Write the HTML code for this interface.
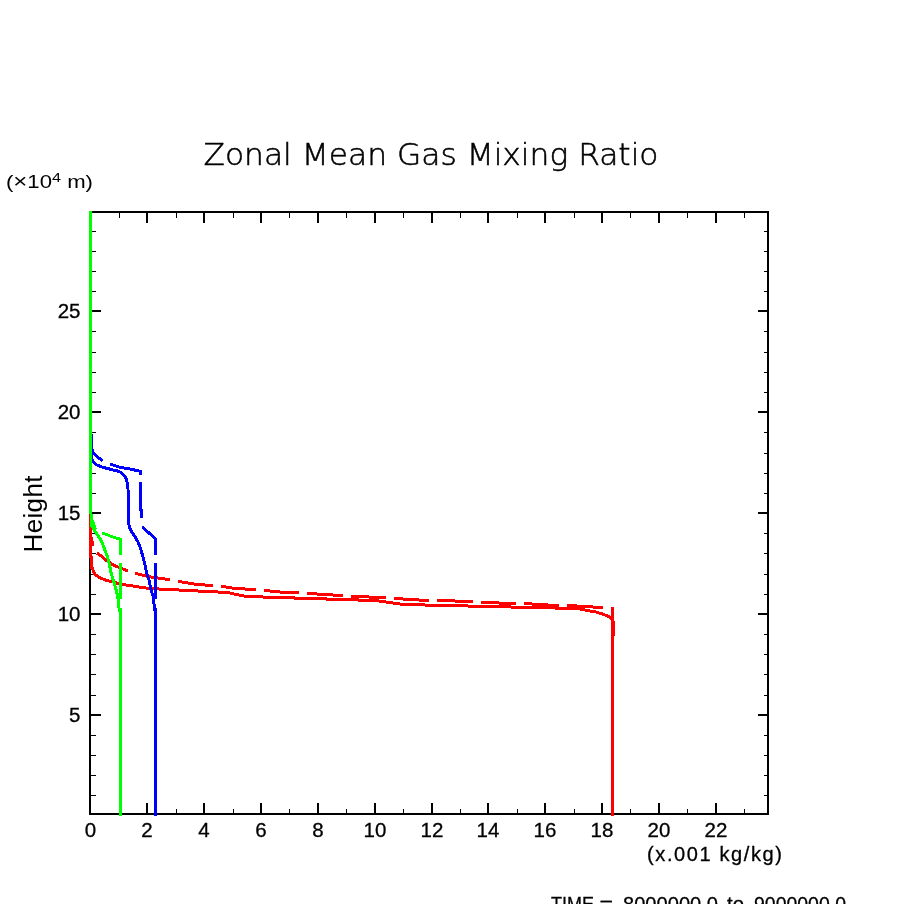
<!DOCTYPE html>
<html><head><meta charset="utf-8"><title>Zonal Mean Gas Mixing Ratio</title>
<style>html,body{margin:0;padding:0;background:#fff;width:904px;height:904px;overflow:hidden}</style>
</head><body>
<svg width="904" height="904" viewBox="0 0 904 904" style="display:block">
<rect width="904" height="904" fill="#fff"/>
<g shape-rendering="crispEdges">
<rect x="89" y="211" width="680" height="2" fill="#000"/>
<rect x="89" y="813" width="680" height="2" fill="#000"/>
<rect x="89" y="211" width="2" height="604" fill="#000"/>
<rect x="767" y="211" width="2" height="604" fill="#000"/>
<rect x="119" y="809" width="1" height="4" fill="#000"/>
<rect x="119" y="213" width="1" height="5" fill="#000"/>
<rect x="146" y="803" width="2" height="10" fill="#000"/>
<rect x="146" y="213" width="2" height="10" fill="#000"/>
<rect x="176" y="809" width="1" height="4" fill="#000"/>
<rect x="176" y="213" width="1" height="5" fill="#000"/>
<rect x="203" y="803" width="2" height="10" fill="#000"/>
<rect x="203" y="213" width="2" height="10" fill="#000"/>
<rect x="233" y="809" width="1" height="4" fill="#000"/>
<rect x="233" y="213" width="1" height="5" fill="#000"/>
<rect x="260" y="803" width="2" height="10" fill="#000"/>
<rect x="260" y="213" width="2" height="10" fill="#000"/>
<rect x="289" y="809" width="1" height="4" fill="#000"/>
<rect x="289" y="213" width="1" height="5" fill="#000"/>
<rect x="317" y="803" width="2" height="10" fill="#000"/>
<rect x="317" y="213" width="2" height="10" fill="#000"/>
<rect x="346" y="809" width="1" height="4" fill="#000"/>
<rect x="346" y="213" width="1" height="5" fill="#000"/>
<rect x="374" y="803" width="2" height="10" fill="#000"/>
<rect x="374" y="213" width="2" height="10" fill="#000"/>
<rect x="403" y="809" width="1" height="4" fill="#000"/>
<rect x="403" y="213" width="1" height="5" fill="#000"/>
<rect x="431" y="803" width="2" height="10" fill="#000"/>
<rect x="431" y="213" width="2" height="10" fill="#000"/>
<rect x="460" y="809" width="1" height="4" fill="#000"/>
<rect x="460" y="213" width="1" height="5" fill="#000"/>
<rect x="487" y="803" width="2" height="10" fill="#000"/>
<rect x="487" y="213" width="2" height="10" fill="#000"/>
<rect x="517" y="809" width="1" height="4" fill="#000"/>
<rect x="517" y="213" width="1" height="5" fill="#000"/>
<rect x="544" y="803" width="2" height="10" fill="#000"/>
<rect x="544" y="213" width="2" height="10" fill="#000"/>
<rect x="574" y="809" width="1" height="4" fill="#000"/>
<rect x="574" y="213" width="1" height="5" fill="#000"/>
<rect x="601" y="803" width="2" height="10" fill="#000"/>
<rect x="601" y="213" width="2" height="10" fill="#000"/>
<rect x="630" y="809" width="1" height="4" fill="#000"/>
<rect x="630" y="213" width="1" height="5" fill="#000"/>
<rect x="658" y="803" width="2" height="10" fill="#000"/>
<rect x="658" y="213" width="2" height="10" fill="#000"/>
<rect x="687" y="809" width="1" height="4" fill="#000"/>
<rect x="687" y="213" width="1" height="5" fill="#000"/>
<rect x="715" y="803" width="2" height="10" fill="#000"/>
<rect x="715" y="213" width="2" height="10" fill="#000"/>
<rect x="744" y="809" width="1" height="4" fill="#000"/>
<rect x="744" y="213" width="1" height="5" fill="#000"/>
<rect x="91" y="795" width="5" height="1" fill="#000"/>
<rect x="764" y="795" width="3" height="1" fill="#000"/>
<rect x="91" y="775" width="5" height="1" fill="#000"/>
<rect x="764" y="775" width="3" height="1" fill="#000"/>
<rect x="91" y="755" width="5" height="1" fill="#000"/>
<rect x="764" y="755" width="3" height="1" fill="#000"/>
<rect x="91" y="735" width="5" height="1" fill="#000"/>
<rect x="764" y="735" width="3" height="1" fill="#000"/>
<rect x="91" y="714" width="10" height="2" fill="#000"/>
<rect x="758" y="714" width="9" height="2" fill="#000"/>
<rect x="91" y="695" width="5" height="1" fill="#000"/>
<rect x="764" y="695" width="3" height="1" fill="#000"/>
<rect x="91" y="674" width="5" height="1" fill="#000"/>
<rect x="764" y="674" width="3" height="1" fill="#000"/>
<rect x="91" y="654" width="5" height="1" fill="#000"/>
<rect x="764" y="654" width="3" height="1" fill="#000"/>
<rect x="91" y="634" width="5" height="1" fill="#000"/>
<rect x="764" y="634" width="3" height="1" fill="#000"/>
<rect x="91" y="613" width="10" height="2" fill="#000"/>
<rect x="758" y="613" width="9" height="2" fill="#000"/>
<rect x="91" y="594" width="5" height="1" fill="#000"/>
<rect x="764" y="594" width="3" height="1" fill="#000"/>
<rect x="91" y="574" width="5" height="1" fill="#000"/>
<rect x="764" y="574" width="3" height="1" fill="#000"/>
<rect x="91" y="553" width="5" height="1" fill="#000"/>
<rect x="764" y="553" width="3" height="1" fill="#000"/>
<rect x="91" y="533" width="5" height="1" fill="#000"/>
<rect x="764" y="533" width="3" height="1" fill="#000"/>
<rect x="91" y="512" width="10" height="2" fill="#000"/>
<rect x="758" y="512" width="9" height="2" fill="#000"/>
<rect x="91" y="493" width="5" height="1" fill="#000"/>
<rect x="764" y="493" width="3" height="1" fill="#000"/>
<rect x="91" y="473" width="5" height="1" fill="#000"/>
<rect x="764" y="473" width="3" height="1" fill="#000"/>
<rect x="91" y="453" width="5" height="1" fill="#000"/>
<rect x="764" y="453" width="3" height="1" fill="#000"/>
<rect x="91" y="432" width="5" height="1" fill="#000"/>
<rect x="764" y="432" width="3" height="1" fill="#000"/>
<rect x="91" y="411" width="10" height="2" fill="#000"/>
<rect x="758" y="411" width="9" height="2" fill="#000"/>
<rect x="91" y="392" width="5" height="1" fill="#000"/>
<rect x="764" y="392" width="3" height="1" fill="#000"/>
<rect x="91" y="372" width="5" height="1" fill="#000"/>
<rect x="764" y="372" width="3" height="1" fill="#000"/>
<rect x="91" y="352" width="5" height="1" fill="#000"/>
<rect x="764" y="352" width="3" height="1" fill="#000"/>
<rect x="91" y="331" width="5" height="1" fill="#000"/>
<rect x="764" y="331" width="3" height="1" fill="#000"/>
<rect x="91" y="310" width="10" height="2" fill="#000"/>
<rect x="758" y="310" width="9" height="2" fill="#000"/>
<rect x="91" y="291" width="5" height="1" fill="#000"/>
<rect x="764" y="291" width="3" height="1" fill="#000"/>
<rect x="91" y="271" width="5" height="1" fill="#000"/>
<rect x="764" y="271" width="3" height="1" fill="#000"/>
<rect x="91" y="251" width="5" height="1" fill="#000"/>
<rect x="764" y="251" width="3" height="1" fill="#000"/>
<rect x="91" y="231" width="5" height="1" fill="#000"/>
<rect x="764" y="231" width="3" height="1" fill="#000"/>
</g>
<defs><clipPath id="pc"><rect x="89" y="211" width="680" height="605"/></clipPath></defs>
<g shape-rendering="crispEdges" clip-path="url(#pc)">
<polyline points="90.5,211 90.5,557 91.5,557.5 91.5,567.5 92.5,568.5 93.5,571.5 95,574.3 97,575.9 100,577.7 104,579.5 108,580.8 111,581.5 114,582.3 117.5,583.3 122,584.02 126,585.02 133,586.02 139,587.02 146,588.02 159,589.02 179,590.02 198,591.02 218,592.02 230,593.02 234,594.02 239,595.02 244,596.02 263,597.02 295,598.02 327,599.02 359,600.02 379,601.02 386,602.02 393,603.02 400,604.02 425,605.02 469,606.02 512,607.02 556,608.02 580,609.02 585,610.02 590,611.02 596,612.02 599,613.02 602.7,614.02 605,615.02 607.8,616.02 610,617.2 611.3,618.8 612.5,620.3 613.5,621.8 613.5,634.5 612.5,635.5 612.5,816" fill="none" stroke="#ff0000" stroke-width="3" stroke-linejoin="miter" stroke-miterlimit="2" stroke-linecap="butt"/>
<polyline points="90.5,505 90.5,526 90.6,529 91.02,537 92.02,541 92.6,546" fill="none" stroke="#ff0000" stroke-width="3" stroke-linejoin="miter" stroke-miterlimit="2" stroke-linecap="butt"/>
<polyline points="97,553.2 102,556.5 105.2,559.4 108.5,562.0 111.9,564.1 115.9,566.1 118.3,567.1 123.5,569.2 126,570.3 128,570.8" fill="none" stroke="#ff0000" stroke-width="3" stroke-linejoin="miter" stroke-miterlimit="2" stroke-linecap="butt"/>
<polyline points="135,573.02 138,574.02 142,575.02 146,576.02 151,577.02 158,578.02 165,579.02 170,579.7342857142856" fill="none" stroke="#ff0000" stroke-width="3" stroke-linejoin="miter" stroke-miterlimit="2" stroke-linecap="butt"/>
<polyline points="178,581.02 182,582.02 188,583.02 194,584.02 205,585.02 213,585.7472727272727" fill="none" stroke="#ff0000" stroke-width="3" stroke-linejoin="miter" stroke-miterlimit="2" stroke-linecap="butt"/>
<polyline points="221,586.02 226,587.02 232,588.02 245,589.02 256,589.8661538461538" fill="none" stroke="#ff0000" stroke-width="3" stroke-linejoin="miter" stroke-miterlimit="2" stroke-linecap="butt"/>
<polyline points="264,590.02 270,591.02 280,592.02 299,592.98" fill="none" stroke="#ff0000" stroke-width="3" stroke-linejoin="miter" stroke-miterlimit="2" stroke-linecap="butt"/>
<polyline points="307,593.02 317,594.02 333,595.02 343,595.645" fill="none" stroke="#ff0000" stroke-width="3" stroke-linejoin="miter" stroke-miterlimit="2" stroke-linecap="butt"/>
<polyline points="351,596.02 369,597.02 386,597.9644444444444" fill="none" stroke="#ff0000" stroke-width="3" stroke-linejoin="miter" stroke-miterlimit="2" stroke-linecap="butt"/>
<polyline points="394,598.02 403,599.02 419.5,600.02 429,600.5957575757576" fill="none" stroke="#ff0000" stroke-width="3" stroke-linejoin="miter" stroke-miterlimit="2" stroke-linecap="butt"/>
<polyline points="437,600.02 455,601.02 473,601.98" fill="none" stroke="#ff0000" stroke-width="3" stroke-linejoin="miter" stroke-miterlimit="2" stroke-linecap="butt"/>
<polyline points="481,602.02 499,603.02 516,603.9644444444444" fill="none" stroke="#ff0000" stroke-width="3" stroke-linejoin="miter" stroke-miterlimit="2" stroke-linecap="butt"/>
<polyline points="524,603.02 532,604.02 548,605.02 559,605.7075" fill="none" stroke="#ff0000" stroke-width="3" stroke-linejoin="miter" stroke-miterlimit="2" stroke-linecap="butt"/>
<polyline points="567,605.02 577,606.02 593,607.02 603,607.645" fill="none" stroke="#ff0000" stroke-width="3" stroke-linejoin="miter" stroke-miterlimit="2" stroke-linecap="butt"/>
<polyline points="612.5,607 612.5,642" fill="none" stroke="#ff0000" stroke-width="3" stroke-linejoin="miter" stroke-miterlimit="2" stroke-linecap="butt"/>
<polyline points="91.5,436.5 91.5,459 93.5,462.3 96,464.6 100.6,466.6 103.5,467.6 107,468.3 112.4,469.8 117.7,471 121.3,472.6 124.5,475.8 126.8,480 128.0,489 128.3,505 128.5,521 129.4,527.5 132.3,532.8 135.6,537.5 138.3,542.6 140.4,548 142.0,553.4 143.6,559.6 145.2,565.8 146.6,572.6 148.7,578.8 150.5,587.5 153.1,596.5 154.2,605.4 155.5,614 155.5,816" fill="none" stroke="#0000ff" stroke-width="3" stroke-linejoin="miter" stroke-miterlimit="2" stroke-linecap="butt"/>
<polyline points="90.5,420 91.5,447.5 93.2,452.5 96.5,455.8 100,459 102.8,460.6" fill="none" stroke="#0000ff" stroke-width="3" stroke-linejoin="miter" stroke-miterlimit="2" stroke-linecap="butt"/>
<polyline points="110.2,464.0 120,467.4 128.3,468.7 133.3,469.8 137.4,470.6 140.5,471.3 140.5,475" fill="none" stroke="#0000ff" stroke-width="3" stroke-linejoin="miter" stroke-miterlimit="2" stroke-linecap="butt"/>
<polyline points="140.5,482 140.5,509.4 141.5,510.5 141.5,517.7" fill="none" stroke="#0000ff" stroke-width="3" stroke-linejoin="miter" stroke-miterlimit="2" stroke-linecap="butt"/>
<polyline points="142.1,526.9 154.9,538.2 155.5,540 155.5,555" fill="none" stroke="#0000ff" stroke-width="3" stroke-linejoin="miter" stroke-miterlimit="2" stroke-linecap="butt"/>
<polyline points="155.5,563.1 155.5,598.8" fill="none" stroke="#0000ff" stroke-width="3" stroke-linejoin="miter" stroke-miterlimit="2" stroke-linecap="butt"/>
<polyline points="155.5,607.5 155.5,640" fill="none" stroke="#0000ff" stroke-width="3" stroke-linejoin="miter" stroke-miterlimit="2" stroke-linecap="butt"/>
<polyline points="90.5,211 90.5,514" fill="none" stroke="#00ff00" stroke-width="3" stroke-linejoin="miter" stroke-miterlimit="2" stroke-linecap="butt"/>
<polyline points="91.5,514 91.5,525.5 92.3,526.5 93.5,529 95,531 97.5,535 100.2,539 102.2,543 103.8,547 105.3,551 106.5,554 107.6,557 108.9,562.3 111.1,572.9 114.2,583.3 116.8,592.1 118,599.2 118.8,607 120.5,614.2 120.5,816" fill="none" stroke="#00ff00" stroke-width="3" stroke-linejoin="miter" stroke-miterlimit="2" stroke-linecap="butt"/>
<polyline points="91.5,514 91.5,520.5 92.5,521.5 93.5,523.5 94.5,526 95.2,529.0" fill="none" stroke="#00ff00" stroke-width="3" stroke-linejoin="miter" stroke-miterlimit="2" stroke-linecap="butt"/>
<polyline points="102,533.5 105,534.02 108,535.02 110,536.02 113,537.02 116,538.02 119,538.6 120.5,539.5 120.5,555" fill="none" stroke="#00ff00" stroke-width="3" stroke-linejoin="miter" stroke-miterlimit="2" stroke-linecap="butt"/>
<polyline points="120.5,563.1 120.5,598.8" fill="none" stroke="#00ff00" stroke-width="3" stroke-linejoin="miter" stroke-miterlimit="2" stroke-linecap="butt"/>
<polyline points="120.5,607.5 120.5,640" fill="none" stroke="#00ff00" stroke-width="3" stroke-linejoin="miter" stroke-miterlimit="2" stroke-linecap="butt"/>
</g>
<g font-family='"Liberation Sans", "DejaVu Sans", sans-serif' fill="#000" stroke="#000" stroke-width="0.3">
<text x="90.5" y="837" font-size="20.5" text-anchor="middle" >0</text>
<text x="147" y="837" font-size="20.5" text-anchor="middle" >2</text>
<text x="204" y="837" font-size="20.5" text-anchor="middle" >4</text>
<text x="261" y="837" font-size="20.5" text-anchor="middle" >6</text>
<text x="318" y="837" font-size="20.5" text-anchor="middle" >8</text>
<text x="375" y="837" font-size="20.5" text-anchor="middle" >10</text>
<text x="432" y="837" font-size="20.5" text-anchor="middle" >12</text>
<text x="488" y="837" font-size="20.5" text-anchor="middle" >14</text>
<text x="545" y="837" font-size="20.5" text-anchor="middle" >16</text>
<text x="602" y="837" font-size="20.5" text-anchor="middle" >18</text>
<text x="659" y="837" font-size="20.5" text-anchor="middle" >20</text>
<text x="716" y="837" font-size="20.5" text-anchor="middle" >22</text>
<text x="80.5" y="722" font-size="20.5" text-anchor="end" >5</text>
<text x="80.5" y="621" font-size="20.5" text-anchor="end" >10</text>
<text x="80.5" y="520" font-size="20.5" text-anchor="end" >15</text>
<text x="80.5" y="419" font-size="20.5" text-anchor="end" >20</text>
<text x="80.5" y="318" font-size="20.5" text-anchor="end" >25</text>
<text x="203.5" y="165" font-family="DejaVu Sans" font-weight="200" font-size="30" textLength="455" lengthAdjust="spacingAndGlyphs" stroke="#000" stroke-width="0.5">Zonal Mean Gas Mixing Ratio</text>
<text x="6" y="188" font-size="18.5" stroke-width="0" textLength="87" lengthAdjust="spacingAndGlyphs">(<tspan font-size="20">×</tspan>10<tspan font-size="13.5" dy="-6">4</tspan><tspan dy="6"> m)</tspan></text>
<text transform="translate(42,552.5) rotate(-90)" x="0" y="0" font-size="26" stroke-width="0" textLength="77" lengthAdjust="spacing">Height</text>
<text x="647" y="861" font-size="20" textLength="135" lengthAdjust="spacing">(x.001 kg/kg)</text>
<text x="551" y="911" font-size="20.5" textLength="43" lengthAdjust="spacingAndGlyphs">TIME</text>
<text x="599.5" y="911" font-size="20.5" textLength="13.5" lengthAdjust="spacingAndGlyphs">=</text>
<text x="623" y="911" font-size="20.5" textLength="95" lengthAdjust="spacingAndGlyphs">8000000.0</text>
<text x="727" y="911" font-size="20.5" textLength="17" lengthAdjust="spacingAndGlyphs">to</text>
<text x="754" y="911" font-size="20.5" textLength="92" lengthAdjust="spacingAndGlyphs">9000000.0</text>
</g>
</svg>
</body></html>
